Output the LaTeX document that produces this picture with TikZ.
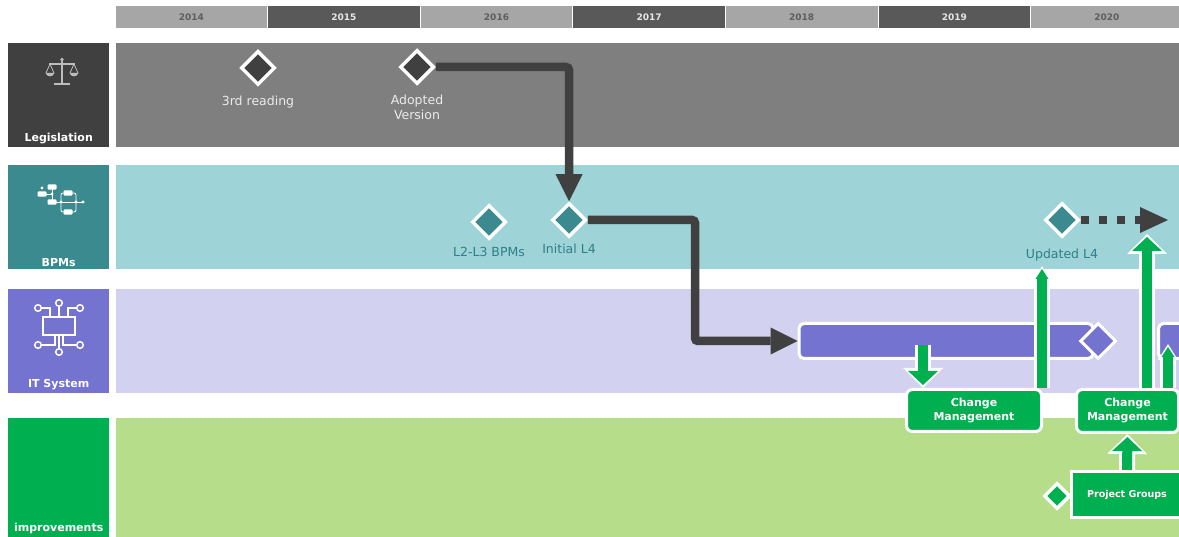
\documentclass[tikz,border=0pt]{standalone}
\usepackage{fontspec}
\setmainfont{DejaVu Sans}
\usetikzlibrary{positioning,shapes.geometric,arrows.meta}

\definecolor{yrLight}{HTML}{A6A6A6}
\definecolor{yrDark}{HTML}{595959}
\definecolor{yrTxtD}{HTML}{5E5E5E}
\definecolor{yrTxtL}{HTML}{E6E6E6}
\definecolor{lawBox}{HTML}{404040}
\definecolor{lawBand}{HTML}{7F7F7F}
\definecolor{lawTxt}{HTML}{EBEBEB}
\definecolor{lawIcon}{HTML}{BDBDBD}
\definecolor{bpmBox}{HTML}{3A8A8F}
\definecolor{bpmBand}{HTML}{9ED3D7}
\definecolor{bpmTxt}{HTML}{2F7F88}
\definecolor{itBox}{HTML}{7473CF}
\definecolor{itBand}{HTML}{D2D2F0}
\definecolor{impBox}{HTML}{00AF50}
\definecolor{impBand}{HTML}{B5DD8A}
\definecolor{arrDark}{HTML}{404040}

\tikzset{
  yearbox/.style={minimum width=151.6pt, minimum height=22pt, inner sep=0pt, font=\fontsize{9}{10}\selectfont\bfseries},
  lanebox/.style={anchor=north west, minimum width=101pt, inner sep=0pt},
  laneband/.style={anchor=north west, minimum width=1080pt, inner sep=0pt},
  lanetxt/.style={text=white, inner sep=0pt, font=\fontsize{11}{13}\selectfont\bfseries},
  mile/.style={diamond, draw=white, line width=3.5pt, minimum size=34pt, inner sep=0pt},
  miletxt/.style={inner sep=0pt, align=center, font=\fontsize{12.5}{15}\selectfont},
  itbar/.style={draw=white, line width=3pt, fill=itBox, rounded corners=5pt, minimum height=35pt, inner sep=0pt},
  cmbox/.style={draw=white, line width=3pt, fill=impBox, rounded corners=6pt, text=white, align=center, inner sep=0pt, font=\fontsize{11}{14}\selectfont\bfseries},
  darrow/.style={draw=arrDark, line width=8.5pt, rounded corners=3pt, -{Triangle[width=27pt,length=27pt,line width=0pt 0 0]}},
  dotarrow/.style={draw=arrDark, line width=8pt, dash pattern=on 8pt off 10pt, -{Triangle[width=26pt,length=28pt,line width=0pt 0 0]}},
  wideB/.style={draw=white, line width=16pt, -{Triangle[width=40pt,length=20pt,line width=0pt 0 0]}},
  wideF/.style={draw=impBox, line width=10pt, shorten >=3pt, -{Triangle[width=30pt,length=14pt,line width=0pt 0 0]}},
  narrowB/.style={draw=white, line width=16pt, -{Triangle[width=20pt,length=16pt,line width=0pt 0 0]}},
  narrowF/.style={draw=impBox, line width=10pt, shorten >=3pt, -{Triangle[width=13pt,length=10pt,line width=0pt 0 0]}}
}

\begin{document}
\begin{tikzpicture}[x=1pt, y=-1pt]
    \clip (0,0) rectangle (1179,537);
    \fill[white] (0,0) rectangle (1179,537);

    % Years
    \foreach \yr [count=\i from 0] in {2014,...,2020}{
        \ifodd\i \def\yf{yrDark}\def\yt{yrTxtL}\else \def\yf{yrLight}\def\yt{yrTxtD}\fi
        \node[yearbox, fill=\yf, text=\yt] (yr\yr) at (191.3+152.6*\i, 17) {\yr};
    }

    % Lanes
    \node[lanebox, fill=lawBox, minimum height=104pt] (lawLbl) at (8,43) {};
    \node[lanebox, fill=bpmBox, minimum height=104pt] (bpmLbl) at (8,165) {};
    \node[lanebox, fill=itBox, minimum height=104pt] (itLbl) at (8,289) {};
    \node[lanebox, fill=impBox, minimum height=119pt] (impLbl) at (8,418) {};
    \node[laneband, fill=lawBand, minimum height=104pt] (lawBand) at (115.5,43) {};
    \node[laneband, fill=bpmBand, minimum height=104pt] (bpmBand) at (115.5,165) {};
    \node[laneband, fill=itBand, minimum height=104pt] (itBand) at (115.5,289) {};
    \node[laneband, fill=impBand, minimum height=119pt] (impBand) at (115.5,418) {};
    \node[lanetxt, above=3pt of lawLbl.south] {Legislation};
    \node[lanetxt, above=3pt of bpmLbl.south] {BPMs};
    \node[lanetxt, above=3pt of itLbl.south] {IT System};
    \node[lanetxt, above=3pt of impLbl.south] {improvements};

    % Icons
    \begin{scope}[draw=lawIcon, fill=lawIcon, line width=1.3pt]
        \draw (62,61) -- (62,83);
        \draw (49,64) -- (75,64);
        \draw (54,84) -- (70,84);
        \fill (62,59.5) circle (1.8);
        \draw[line width=0.8pt] (46,73) -- (50,64) -- (54,73);
        \draw[line width=0.8pt] (70,73) -- (74,64) -- (78,73);
        \fill (45.5,73) .. controls (47,77.5) and (53,77.5) .. (54.5,73) -- cycle;
        \fill (69.5,73) .. controls (71,77.5) and (77,77.5) .. (78.5,73) -- cycle;
    \end{scope}
    \begin{scope}[draw=white, fill=white, line width=0.8pt]
        \draw (42,194) -- (52,194);
        \draw (52,187) -- (52,202) -- (83,202);
        \draw[rounded corners=2pt] (64,193) -| (61,212) -- (64,212);
        \draw[rounded corners=2pt] (72.5,193) -| (76,212) -- (72.5,212);
        \foreach \cx/\cy in {52/187, 42/194, 52/202, 68/193, 68/212}
            \fill[rounded corners=1pt] (\cx-4.5,\cy-2.7) rectangle (\cx+4.5,\cy+2.7);
        \foreach \cx/\cy in {42/188, 52/194, 61/202, 76/202, 83/202}
            \fill (\cx,\cy) circle (1.6);
    \end{scope}
    \begin{scope}[draw=white, line width=1.5pt]
        \draw (43,317) rectangle (75,335);
        \foreach \cx/\cy in {59/303, 38/308, 80/308, 38/345, 80/345, 59/352}
            \draw (\cx,\cy) circle (3.3);
        \draw (59,306.3) -- (59,317);
        \draw (41.3,308) -- (50,308) -- (50,317);
        \draw (76.7,308) -- (68,308) -- (68,317);
        \draw (41.3,345) -- (55,345) -- (55,335);
        \draw (76.7,345) -- (63,345) -- (63,335);
        \draw (59,335) -- (59,348.7);
    \end{scope}

    % IT bars
    \node[itbar, minimum width=294pt] (bar1) at (946,341) {};
    \node[diamond, draw=white, line width=3pt, fill=itBox, minimum size=36pt, inner sep=0pt] (bar1End) at (1098,341) {};
    \node[itbar, minimum width=83pt] (bar2) at (1200,341) {};

    % Milestones
    \node[mile, fill=lawBox] (d3rd) at (258,68) {};
    \node[miletxt, text=lawTxt, below=9pt of d3rd] (t3rd) {3rd reading};
    \node[mile, fill=lawBox] (dAdopt) at (417,67) {};
    \node[miletxt, text=lawTxt, below=9pt of dAdopt] (tAdopt) {Adopted\\Version};
    \node[mile, fill=bpmBox] (dL23) at (489,222) {};
    \node[miletxt, text=bpmTxt, below=6.7pt of dL23] (tL23) {L2-L3 BPMs};
    \node[mile, fill=bpmBox] (dInit) at (569,220) {};
    \node[miletxt, text=bpmTxt, below=5.5pt of dInit] (tInit) {Initial L4};
    \node[mile, fill=bpmBox] (dUpd) at (1062,220) {};
    \node[miletxt, text=bpmTxt, below=10pt of dUpd] (tUpd) {Updated L4};

    % Dark flow
    \coordinate (bend) at (695,341);
    \coordinate (dotEnd) at (1168,220);
    \draw[darrow] (dAdopt.east) -| (dInit.north);
    \draw[darrow] (dInit.east) -| (bend) -- (bar1.west);
    \draw[dotarrow] (dUpd.east) -- (dotEnd);

    % Improvement boxes
    \node[cmbox, minimum width=135pt, minimum height=42pt] (cm1) at (974,410.5) {Change\\Management};
    \node[cmbox, minimum width=102pt, minimum height=43pt] (cm2) at (1127.5,411) {Change\\Management};
    \node[cmbox, rounded corners=0pt, minimum width=111pt, minimum height=46pt, font=\fontsize{9.5}{11}\selectfont\bfseries] (pg) at (1127,494.5) {Project Groups};
    \node[mile, fill=impBox, minimum size=26pt] (dProj) at (1057,496) {};

    % Green arrows
    \coordinate (barDrop) at ([xshift=-23pt,yshift=-4pt]bar1.center);
    \coordinate (cm1Top) at ([xshift=-51pt]cm1.north);
    \coordinate (cm1Rise) at ([xshift=68pt]cm1.north);
    \coordinate (updIn) at (1042,266);
    \coordinate (cm2Rise) at ([xshift=19.5pt]cm2.north);
    \coordinate (dotIn) at (1147,234);
    \coordinate (cm2Side) at ([xshift=40.5pt]cm2.north);
    \coordinate (bar2In) at (1168,344);
    \foreach \a/\b/\sb/\sf in {barDrop/cm1Top/wideB/wideF, cm1Rise/updIn/narrowB/narrowF, cm2Rise/dotIn/wideB/wideF, cm2Side/bar2In/narrowB/narrowF, pg.north/cm2.south/wideB/wideF}{
        \draw[\sb] (\a) -- (\b);
        \draw[\sf] (\a) -- (\b);
    }
\end{tikzpicture}
\end{document}
